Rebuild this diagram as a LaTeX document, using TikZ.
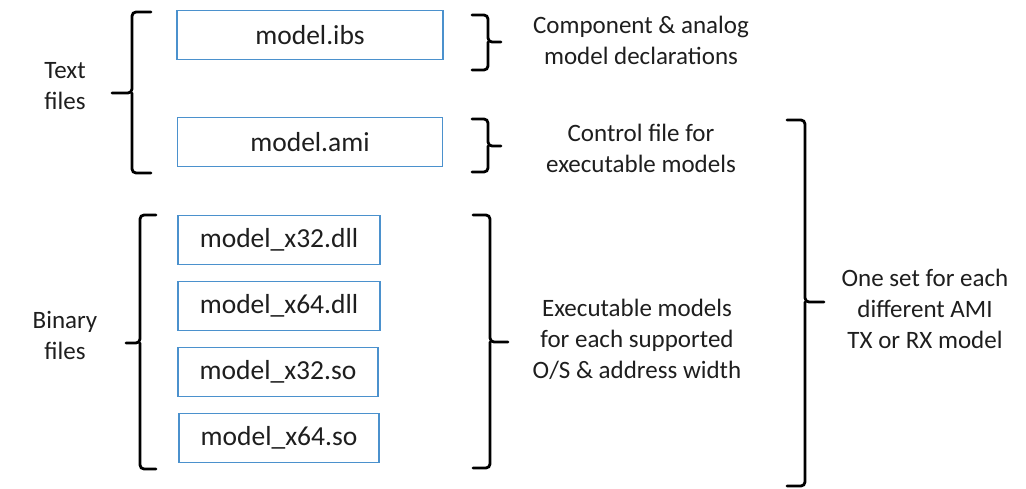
\documentclass[tikz,border=0pt]{standalone}
\usepackage{fontspec}
\setmainfont{Carlito}
\usetikzlibrary{positioning,calc}
\definecolor{boxblue}{RGB}{75,145,205}
\definecolor{txtgray}{RGB}{30,30,30}
\tikzset{fbox/.style={draw=boxblue,line width=1.6pt,minimum height=49pt,inner sep=0pt,text=txtgray,font=\fontsize{27.5}{31}\selectfont},
  lbl/.style={align=center,text=txtgray,font=\fontsize{25}{31}\selectfont},
  brc/.style={line width=2.8pt,rounded corners=4pt,line cap=round}}
\begin{document}
\begin{tikzpicture}[x=1pt,y=-1pt]
  \useasboundingbox (0,0) rectangle (1026,489);
  % text files
  \node (ibs) [fbox,minimum width=266pt] at (310,35) {model.ibs};
  \node (ami) [fbox,minimum width=265pt] at (310,142) {model.ami};

  % binary files
  \node (x32d) [fbox,minimum width=202pt] at (279,240) {model\_x32.dll};
  \node (x64d) [fbox,minimum width=202pt] at (279,306) {model\_x64.dll};
  \node (x32s) [fbox,minimum width=200pt] at (278,372) {model\_x32.so};
  \node (x64s) [fbox,minimum width=200pt] at (279,438) {model\_x64.so};

  % labels
  \node (ltext) [lbl] at (65,86) {Text\\files};
  \node (lbin) [lbl] at (65,335) {Binary\\files};
  \node (dibs) [lbl] at (641,40) {Component \& analog\\model declarations};
  \node (dami) [lbl] at (641,148) {Control file for\\executable models};
  \node (dbin) [lbl] at (637,339) {Executable models\\for each supported\\O/S \& address width};
  \node (dset) [lbl] at (925,309) {One set for each\\different AMI\\TX or RX model};

  % left braces
  \draw[brc] (151,12) -- (132,12) -- (132,93) -- (112,93) (132,93) -- (132,173) -- (151,173);
  \draw[brc] (156,215) -- (140,215) -- (140,343) -- (126,343) (140,343) -- (140,469) -- (156,469);

  % right braces
  \draw[brc] (472,15) -- (488,15) -- (488,42) -- (501,42) (488,42) -- (488,70) -- (472,70);
  \draw[brc] (472,119) -- (488,119) -- (488,146) -- (501,146) (488,146) -- (488,172) -- (472,172);
  \draw[brc] (473,215) -- (490,215) -- (490,342) -- (508,342) (490,342) -- (490,468) -- (473,468);
  \draw[brc] (787,120) -- (805,120) -- (805,302) -- (824,302) (805,302) -- (805,486) -- (787,486);
\end{tikzpicture}
\end{document}
